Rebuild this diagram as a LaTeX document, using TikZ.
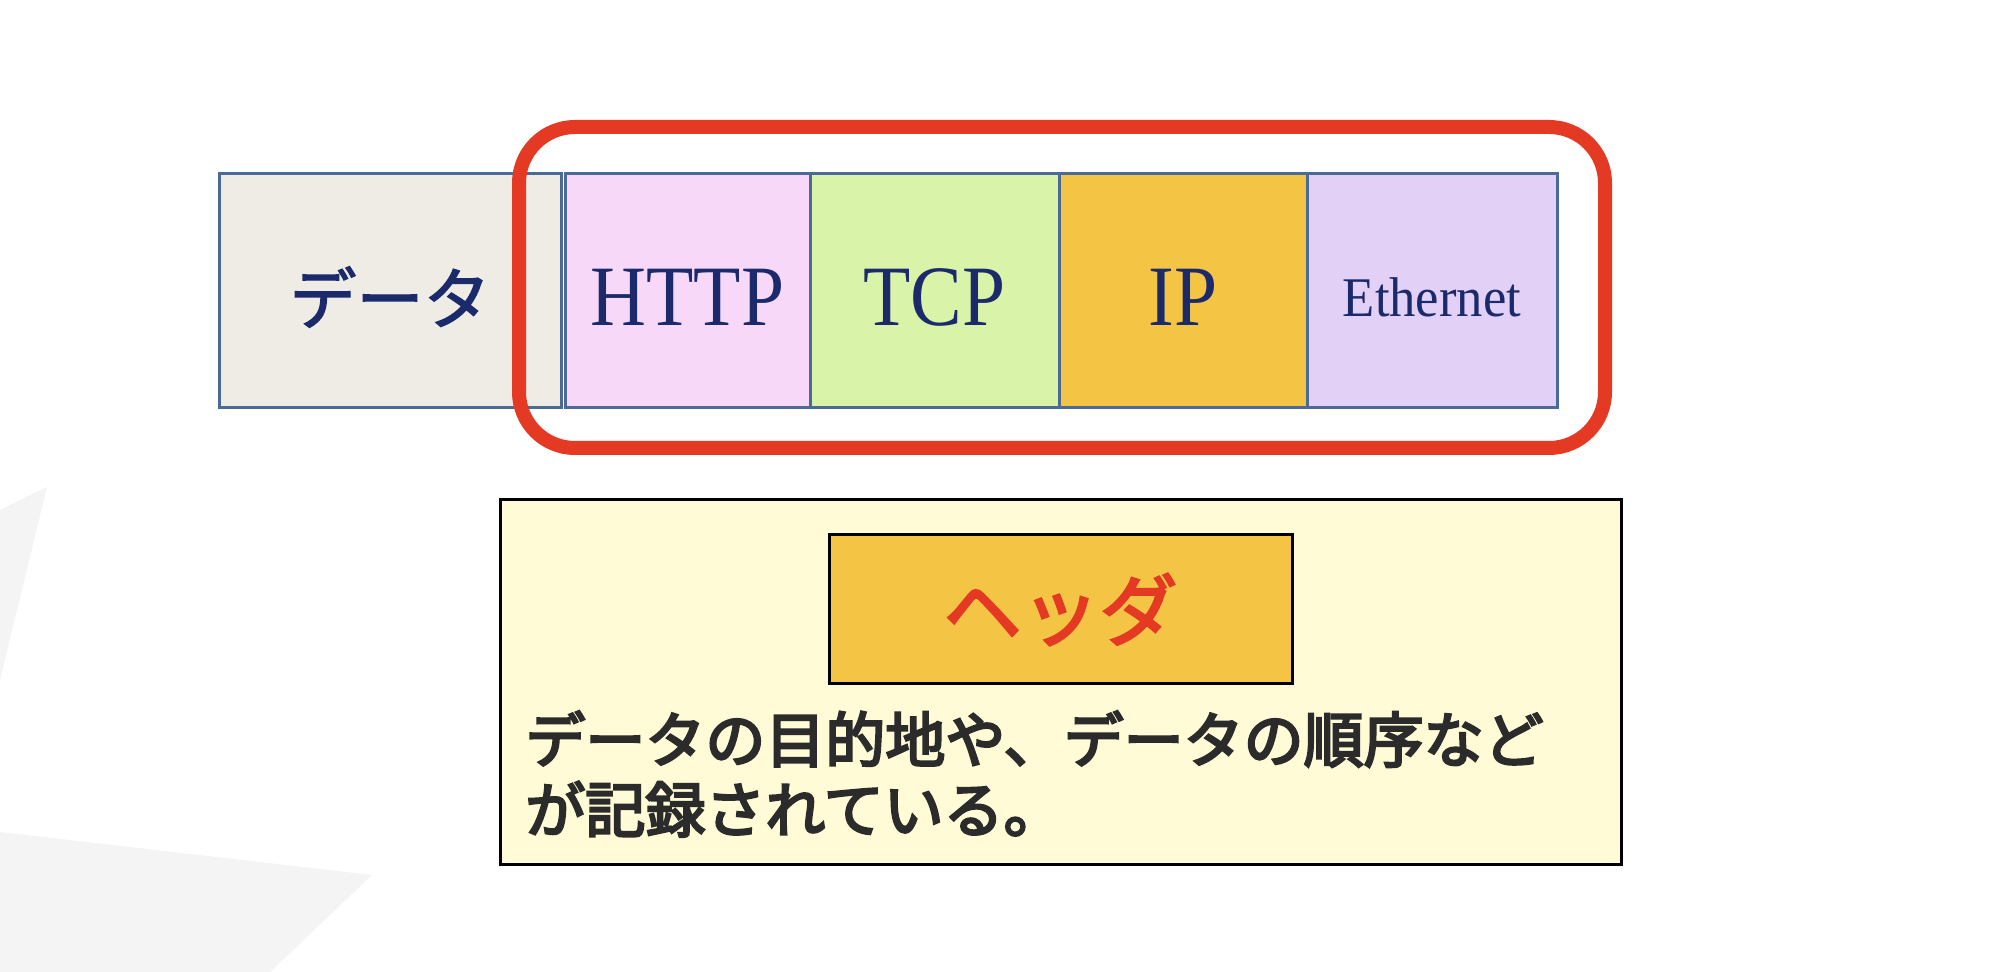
\documentclass[tikz,border=0pt]{standalone}
\usepackage{graphicx}
\usepackage{fontspec}
\setmainfont{Liberation Serif}
\newfontfamily\cjkmed[FakeBold=2]{Noto Sans CJK JP}
\newfontfamily\cjkhdr[FakeBold=3]{Noto Sans CJK JP}
\newfontfamily\cjkbold[FakeBold=4]{Noto Sans CJK JP}
\definecolor{navy}{HTML}{1B2A6B}
\definecolor{cellborder}{HTML}{4B6A96}
\definecolor{datac}{HTML}{EEECE5}
\definecolor{httpc}{HTML}{F8D8F8}
\definecolor{tcpc}{HTML}{D9F3A8}
\definecolor{ipc}{HTML}{F4C444}
\definecolor{ethc}{HTML}{E2D0F6}
\definecolor{redc}{HTML}{E43A24}
\definecolor{yelc}{HTML}{FFFBD6}
\definecolor{bodyc}{HTML}{2B2B2B}
\definecolor{bgshape}{HTML}{F4F4F4}
\tikzset{
  cell/.style={draw=cellborder, line width=1.5pt, minimum height=117pt, inner sep=0pt, text=navy},
  bigserif/.style={font=\fontsize{43}{50}\selectfont},
}
\begin{document}
\begin{tikzpicture}[x=0.5pt,y=-0.5pt]
\fill[white] (0,0) rectangle (1994,972);
\useasboundingbox (0,0) rectangle (1994,972);
% faint background shapes
\fill[bgshape] (0,510) -- (47,487) -- (0,680) -- cycle;
\fill[bgshape] (0,832) -- (372,875) -- (270,972) -- (0,972) -- cycle;
% cells
\node[cell, fill=datac, minimum width=171pt] (data) at (390,291) {};
\node[cell, fill=httpc, minimum width=122.5pt] (http) at (687.5,291) {};
\node[cell, fill=tcpc, minimum width=124.5pt] (tcp) at (934.5,291) {};
\node[cell, fill=ipc, minimum width=124pt] (ip) at (1183,291) {};
\node[cell, fill=ethc, minimum width=125pt] (eth) at (1432,291) {};
% labels
\node[text=navy, font=\cjkmed\fontsize{33.5}{38}\selectfont] (datat) at ([yshift=-3pt]data.center) {データ};
\node[text=navy, bigserif] (httpt) at ([yshift=-3pt]http.center) {\scalebox{0.9}[1]{HTTP}};
\node[text=navy, bigserif] (tcpt) at ([yshift=-3pt]tcp.center) {\scalebox{0.9}[1]{TCP}};
\node[text=navy, bigserif] (ipt) at ([yshift=-3pt]ip.center) {\scalebox{0.9}[1]{IP}};
\node[text=navy, font=\fontsize{28}{32}\selectfont] (etht) at ([yshift=-3pt]eth.center) {\scalebox{0.94}[1]{Ethernet}};
% red highlight
\node[draw=redc, line width=7pt, rounded corners=28pt, minimum width=543pt, minimum height=160.5pt, inner sep=0pt] (grp) at (1062,287.5) {};
% explanation box
\node[draw=black, line width=1.5pt, fill=yelc, minimum width=560.5pt, minimum height=182.5pt, inner sep=0pt] (expl) at (1060.5,682.5) {};
\node[draw=black, line width=1.5pt, fill=ipc, minimum width=231.5pt, minimum height=74.5pt, inner sep=0pt, text=redc, font=\cjkhdr\fontsize{39}{44}\selectfont] (hdr) at (1060.5,609.5) {ヘッダ};
\node[anchor=west, align=left, inner sep=0pt, text=bodyc, font=\cjkbold\fontsize{30}{35}\selectfont] (body) at (525,774) {データの目的地や、データの順序など\\が記録されている。};
\end{tikzpicture}
\end{document}
